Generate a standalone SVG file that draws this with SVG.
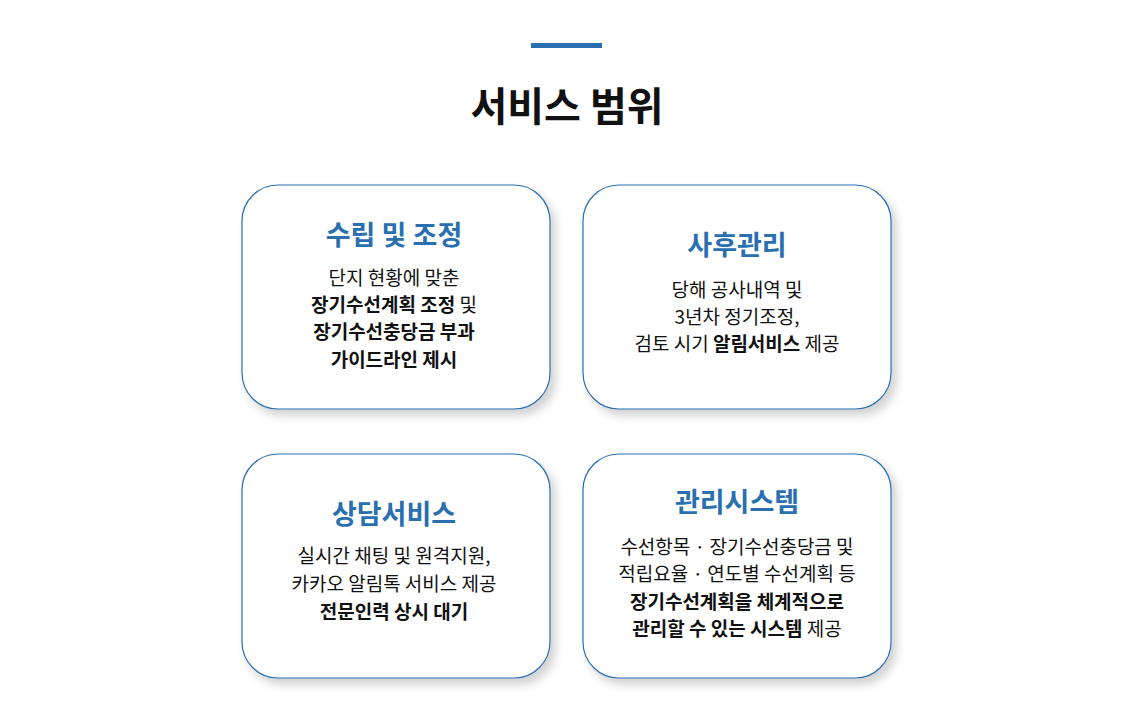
<svg xmlns="http://www.w3.org/2000/svg" width="1141" height="718" viewBox="0 0 1141 718">
<style>
text{font-family:"Noto Sans CJK KR","Noto Sans",sans-serif;text-anchor:middle;fill:#111}
.h{font-size:40px;font-weight:700}
.t{font-size:27px;font-weight:700;fill:#2a6fb0}
.b{font-size:19px}
.s{font-weight:700}
.card{fill:#fff;stroke:#2a6fb0;stroke-width:1.2;filter:url(#sh)}
</style>
<defs>
<filter id="sh" x="-10%" y="-10%" width="130%" height="130%">
<feDropShadow dx="5" dy="6" stdDeviation="5" flood-color="#000" flood-opacity="0.18"/>
</filter>
</defs>
<rect x="531" y="43" width="71" height="5" fill="#2a6fb0"/>
<text class="h" x="567" y="121">서비스 범위</text>
<g id="card1">
<rect class="card" x="242" y="185" width="308" height="224" rx="36"/>
<text class="t" x="394" y="245">수립 및 조정</text>
<text class="b" x="394" y="285">단지 현황에 맞춘</text>
<text class="b" x="394" y="312"><tspan class="s">장기수선계획 조정</tspan> 및</text>
<text class="b s" x="394" y="339">장기수선충당금 부과</text>
<text class="b s" x="394" y="367">가이드라인 제시</text>
</g>
<g id="card2">
<rect class="card" x="583" y="185" width="308" height="224" rx="36"/>
<text class="t" x="737" y="255">사후관리</text>
<text class="b" x="737" y="297">당해 공사내역 및</text>
<text class="b" x="737" y="324">3년차 정기조정,</text>
<text class="b" x="737" y="351">검토 시기 <tspan class="s">알림서비스</tspan> 제공</text>
</g>
<g id="card3">
<rect class="card" x="242" y="454" width="308" height="224" rx="36"/>
<text class="t" x="394" y="524">상담서비스</text>
<text class="b" x="394" y="563">실시간 채팅 및 원격지원,</text>
<text class="b" x="394" y="591">카카오 알림톡 서비스 제공</text>
<text class="b s" x="394" y="619">전문인력 상시 대기</text>
</g>
<g id="card4">
<rect class="card" x="583" y="454" width="308" height="224" rx="36"/>
<text class="t" x="737" y="512">관리시스템</text>
<text class="b" x="737" y="554">수선항목 · 장기수선충당금 및</text>
<text class="b" x="737" y="581">적립요율 · 연도별 수선계획 등</text>
<text class="b s" x="737" y="609">장기수선계획을 체계적으로</text>
<text class="b" x="737" y="636"><tspan class="s">관리할 수 있는 시스템</tspan> 제공</text>
</g>
<g id="connectors"/>
</svg>
